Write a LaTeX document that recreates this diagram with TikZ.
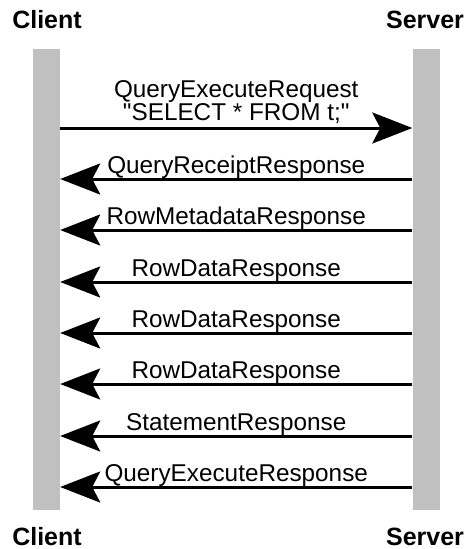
\documentclass[tikz,border=0pt]{standalone}
\usepackage{fontspec}
\setmainfont{Liberation Sans}
\usetikzlibrary{arrows.meta}
\definecolor{lifeline}{HTML}{C0C0C0}
\tikzset{
  bar/.style={fill=lifeline, draw=none, minimum width=27pt, minimum height=461pt, inner sep=0pt},
  party/.style={font=\fontsize{25}{25}\selectfont\bfseries, anchor=base, inner sep=0pt},
  msg/.style={line width=3pt, -{Stealth[length=40pt, width=31pt, inset=8pt]}},
  lbl/.style={font=\fontsize{24.3}{20}\selectfont, anchor=base, inner sep=0pt, yshift=6pt, align=center}
}
\begin{document}
\begin{tikzpicture}[x=1pt, y=-1pt]
  \useasboundingbox (0,0) rectangle (467,549);

  % lifelines
  \node[bar] (cbar) at (46.5,279.5) {};
  \node[bar] (sbar) at (426,279.5) {};

  % participant names, top and bottom
  \node[party] (ctop) at (47,28) {Client};
  \node[party] (stop) at (425,28) {Server};
  \node[party] (cbot) at (47,545) {Client};
  \node[party] (sbot) at (425,545) {Server};

  % message rows
  \coordinate (m0) at (0,128);
  \coordinate (m1) at (0,179);
  \coordinate (m2) at (0,230);
  \coordinate (m3) at (0,282);
  \coordinate (m4) at (0,333);
  \coordinate (m5) at (0,384);
  \coordinate (m6) at (0,436);
  \coordinate (m7) at (0,487);

  \draw[msg] (cbar.east |- m0) -- node[lbl, anchor=south, yshift=-3pt] {QueryExecuteRequest\\\textquotedbl SELECT * FROM t;\textquotedbl} (sbar.west |- m0);
  \draw[msg] (sbar.west |- m1) -- node[lbl] {QueryReceiptResponse} (cbar.east |- m1);
  \draw[msg] (sbar.west |- m2) -- node[lbl] {RowMetadataResponse} (cbar.east |- m2);
  \draw[msg] (sbar.west |- m3) -- node[lbl] {RowDataResponse} (cbar.east |- m3);
  \draw[msg] (sbar.west |- m4) -- node[lbl] {RowDataResponse} (cbar.east |- m4);
  \draw[msg] (sbar.west |- m5) -- node[lbl] {RowDataResponse} (cbar.east |- m5);
  \draw[msg] (sbar.west |- m6) -- node[lbl] {StatementResponse} (cbar.east |- m6);
  \draw[msg] (sbar.west |- m7) -- node[lbl] {QueryExecuteResponse} (cbar.east |- m7);
\end{tikzpicture}
\end{document}
